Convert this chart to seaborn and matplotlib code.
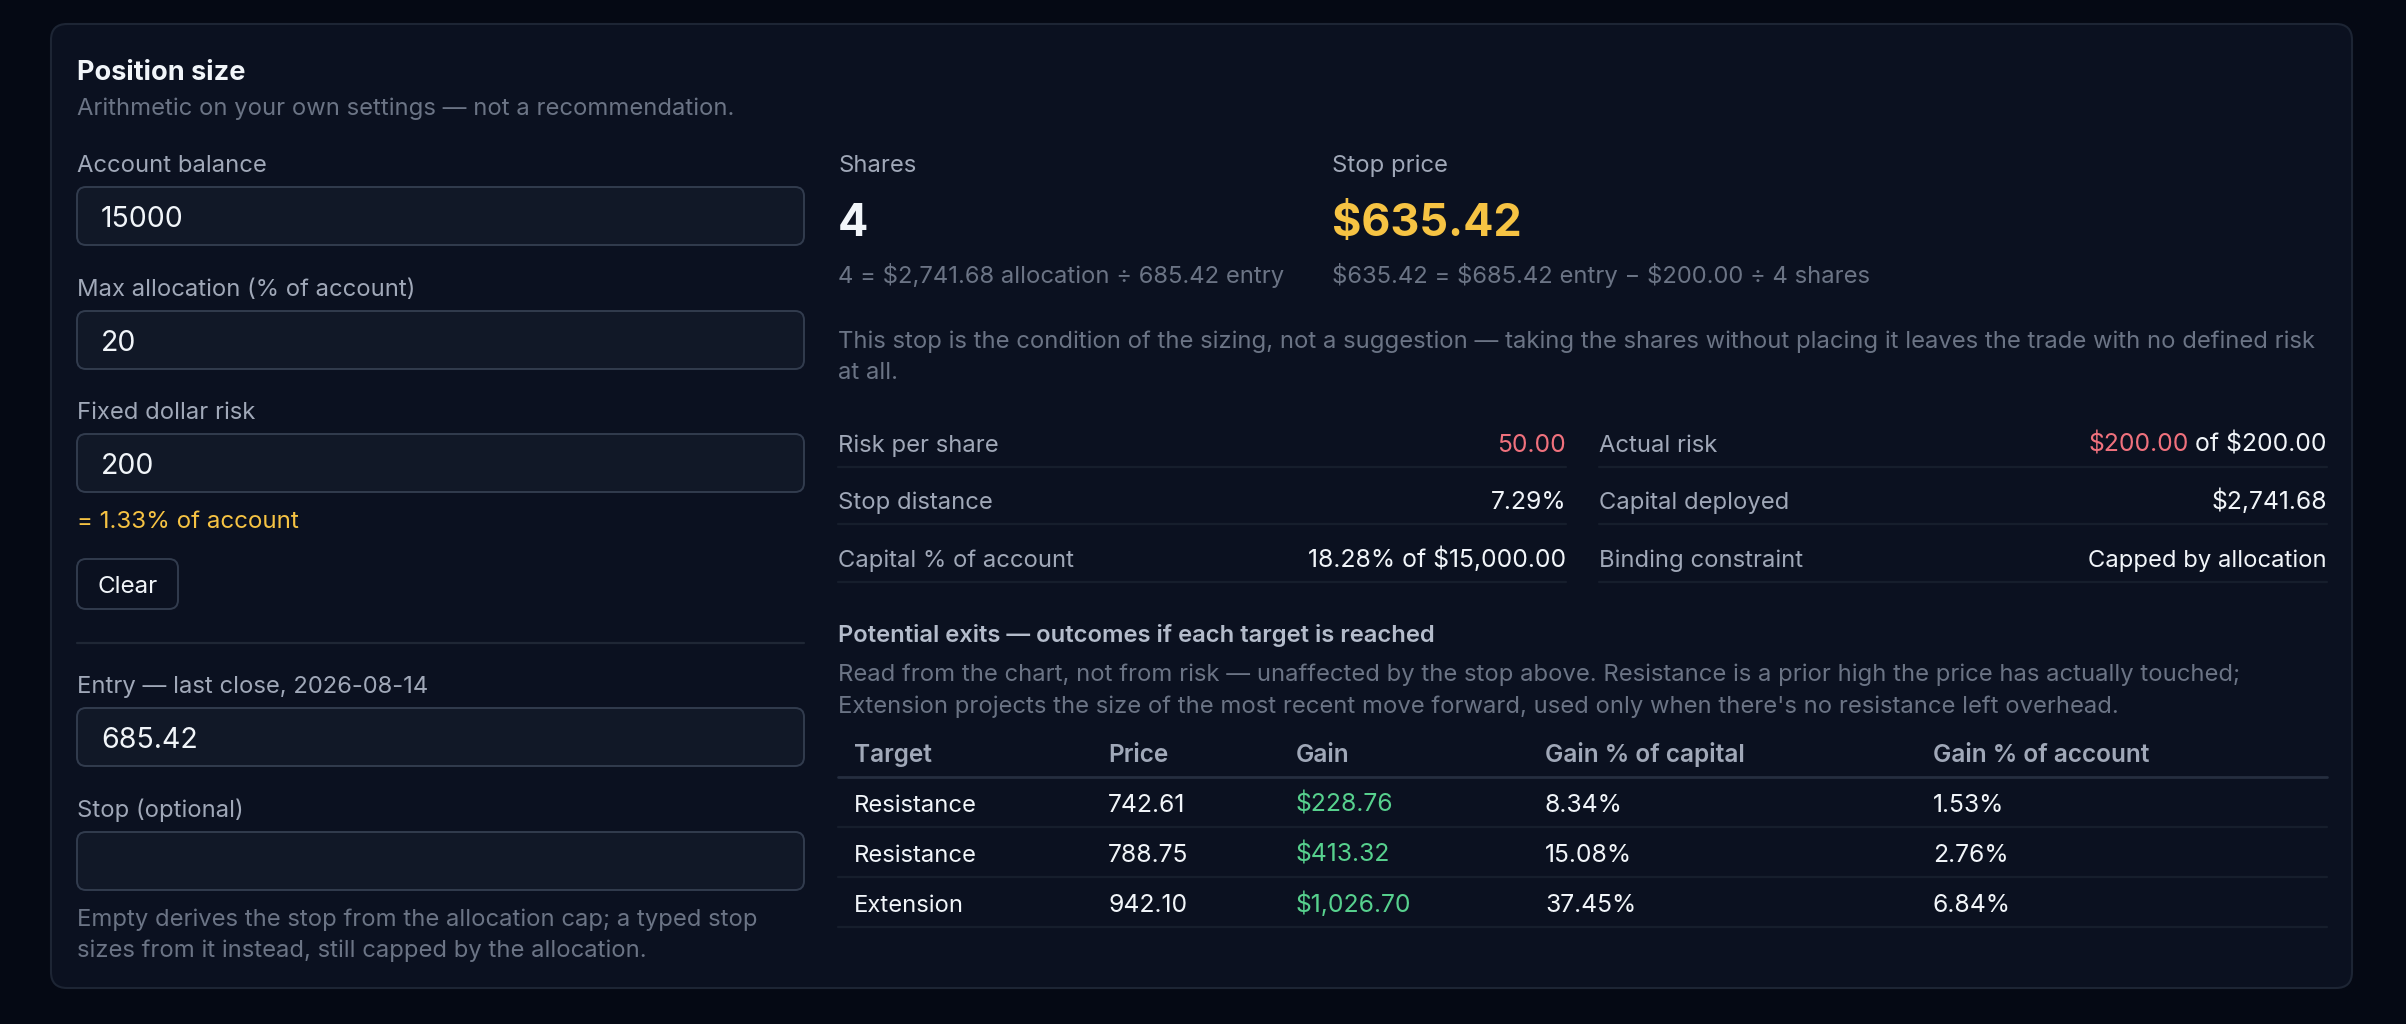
import matplotlib
matplotlib.use("Agg")
import matplotlib.pyplot as plt
from matplotlib.patches import FancyBboxPatch
import seaborn as sns
import pandas as pd

# ---- content ----
title = "Position size"
subtitle = "Arithmetic on your own settings — not a recommendation."
input_labels = ["Account balance", "Max allocation (% of account)", "Fixed dollar risk",
                "Entry — last close, 2026-08-14", "Stop (optional)"]
input_values = ["15000", "20", "200", "685.42", ""]
risk_note = "= 1.33% of account"
stop_help = ["Empty derives the stop from the allocation cap; a typed stop",
             "sizes from it instead, still capped by the allocation."]

shares = 4
stop_price = 635.42
shares_formula = "4 = $2,741.68 allocation ÷ 685.42 entry"
stop_formula = "$635.42 = $685.42 entry − $200.00 ÷ 4 shares"
stop_note = ["This stop is the condition of the sizing, not a suggestion — taking the shares "
             "without placing it leaves the trade with no defined risk",
             "at all."]

stat_labels_left = ["Risk per share", "Stop distance", "Capital % of account"]
stat_values_left = ["50.00", "7.29%", "18.28% of $15,000.00"]
stat_labels_right = ["Actual risk", "Capital deployed", "Binding constraint"]
stat_values_right = ["$200.00 of $200.00", "$2,741.68", "Capped by allocation"]
actual_risk = 200.00

exits_title = "Potential exits — outcomes if each target is reached"
exits_note = ["Read from the chart, not from risk — unaffected by the stop above. "
              "Resistance is a prior high the price has actually touched;",
              "Extension projects the size of the most recent move forward, "
              "used only when there's no resistance left overhead."]
exit_columns = ["Target", "Price", "Gain", "Gain % of capital", "Gain % of account"]
exit_targets = ["Resistance", "Resistance", "Extension"]
exit_prices = [742.61, 788.75, 942.10]
exit_gains = [228.76, 413.32, 1026.70]
exit_pct_capital = [8.34, 15.08, 37.45]
exit_pct_account = [1.53, 2.76, 6.84]

exits = pd.DataFrame({
    "Target": exit_targets,
    "Price": [f"{p:.2f}" for p in exit_prices],
    "Gain": [f"${g:,.2f}" for g in exit_gains],
    "Gain % of capital": [f"{v:.2f}%" for v in exit_pct_capital],
    "Gain % of account": [f"{v:.2f}%" for v in exit_pct_account],
})

# ---- colours ----
PAGE = "#050914"
CARD = "#0b1120"
CARD_EDGE = "#1d2534"
FIELD = "#111827"
FIELD_EDGE = "#323c4e"
WHITE = "#f1f5f9"
LABEL = "#a0a8b8"
MUTED = "#6b7485"
AMBER = "#f6c343"
RED = "#f0717d"
GREEN = "#57d18e"
RULE = "#161e2c"

# font sizes: Inter is a touch wider than the original UI font; digits a touch narrower
TXT = 17.15
NUM = 17.8

sns.set_theme(style="dark", rc={"figure.facecolor": PAGE, "axes.facecolor": PAGE})
plt.rcParams["font.family"] = ["Inter", "DejaVu Sans"]

W, H = 2406, 1024
fig = plt.figure(figsize=(W / 100, H / 100), dpi=100)
ax = fig.add_axes([0, 0, 1, 1])
ax.set_xlim(0, W)
ax.set_ylim(H, 0)
ax.axis("off")


def box(x, y, w, h, r, fc, ec, lw=1.4):
    ax.add_patch(FancyBboxPatch((x, y), w, h, boxstyle=f"round,pad=0,rounding_size={r}",
                                fc=fc, ec=ec, lw=lw))


def txt(x, y, s, size=TXT, color=LABEL, weight="normal", ha="left"):
    return ax.text(x, y, s, fontsize=size, color=color, fontweight=weight,
                   ha=ha, va="baseline")


def is_numeric(s):
    return sum(c.isdigit() for c in s) > len(s) / 3


# card
box(51, 24, 2301, 964, 16, CARD, CARD_EDGE, lw=1.5)

# ---- left column: inputs ----
LX, FW = 77, 727
txt(LX, 80, title, size=19.5, color=WHITE, weight="bold")
txt(LX, 115, subtitle, color=MUTED)

label_y = [172, 296, 419, 693, 817]
for lab, val, ly in zip(input_labels, input_values, label_y):
    txt(LX, ly, lab, color=LABEL)
    top = ly + 15
    box(LX, top, FW, 58, 9, FIELD, FIELD_EDGE)
    if val:
        txt(LX + 24, top + 40, val, size=20.5, color=WHITE)

txt(LX, 528, risk_note, size=17.4, color=AMBER)

box(LX, 559, 101, 50, 9, CARD, FIELD_EDGE)
txt(LX + 50.5, 593, "Clear", size=17.4, color=WHITE, ha="center")

ax.plot([LX, LX + FW], [643, 643], color="#1f2735", lw=1.6)

for i, line in enumerate(stop_help):
    txt(LX, 926 + 31 * i, line, color=MUTED)

# ---- right column: results ----
RX, SX = 838, 1332
txt(RX, 172, "Shares", color=LABEL)
txt(RX, 236, f"{shares}", size=32.3, color=WHITE, weight="bold")
txt(RX, 283, shares_formula, color=MUTED)
txt(SX, 172, "Stop price", color=LABEL)
txt(SX, 236, f"${stop_price:,.2f}", size=32.3, color=AMBER, weight="bold")
txt(SX, 283, stop_formula, color=MUTED)
for i, line in enumerate(stop_note):
    txt(RX, 348 + 31 * i, line, color=MUTED)

# stats grid
fig.canvas.draw()
renderer = fig.canvas.get_renderer()
cols = [(RX, 1566, stat_labels_left, stat_values_left),
        (1599, 2327, stat_labels_right, stat_values_right)]
row_y = [452, 509, 567]
for x0, x1, labs, vals in cols:
    for lab, val, ry in zip(labs, vals, row_y):
        txt(x0, ry, lab, color=LABEL)
        size = NUM if is_numeric(val) else TXT
        if lab == "Risk per share":
            txt(x1, ry, val, size=size, color=RED, ha="right")
        elif lab == "Actual risk":
            head = f"${actual_risk:,.2f}"
            tail = val[len(head):]
            t = txt(x1, ry, tail, size=size, color=WHITE, ha="right")
            wpx = t.get_window_extent(renderer).width
            txt(x1 - wpx, ry, head, size=size, color=RED, ha="right")
        else:
            txt(x1, ry, val, size=size, color=WHITE, ha="right")
        ax.plot([x0, x1], [ry + 15, ry + 15], color=RULE, lw=1.6)

# potential exits table
txt(RX, 642, exits_title, color="#b4bccb", weight="semibold")
for i, line in enumerate(exits_note):
    txt(RX, 681 + 32 * i, line, color=MUTED)

col_x = [854, 1108, 1296, 1545, 1933]
for cx, name in zip(col_x, exit_columns):
    txt(cx, 762, name, size=17.6, color=LABEL, weight="semibold")
ax.plot([RX, 2327], [777, 777], color="#252e3f", lw=2)

for r, (_, row) in enumerate(exits.iterrows()):
    ry = 812 + 50 * r
    for cx, name in zip(col_x, exit_columns):
        color = GREEN if name == "Gain" else WHITE
        size = NUM if is_numeric(row[name]) else TXT
        txt(cx, ry, row[name], size=size, color=color)
    ax.plot([RX, 2327], [ry + 15, ry + 15], color=RULE, lw=1.6)

fig.savefig("out.png", dpi=100, facecolor=PAGE)
